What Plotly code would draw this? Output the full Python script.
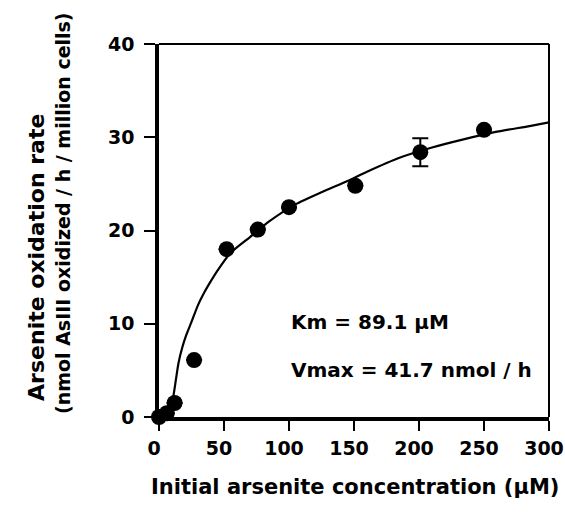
import plotly.graph_objects as go

# Measured data points
conc = [0, 6, 12, 27, 52, 76, 100, 151, 201, 250]
rate = [0, 0.4, 1.5, 6.1, 18.0, 20.1, 22.5, 24.8, 28.4, 30.8]
rate_err = [None, None, None, None, None, None, None, None, 1.5, None]

# Fitted curve
fit_x = [0, 8, 11, 13, 15, 18, 21, 25, 30, 35, 40, 45, 55, 70, 85, 105, 125,
         145, 160, 185, 210, 235, 260, 285, 300]
fit_y = [0, 0.5, 2.2, 4.0, 5.8, 7.5, 8.8, 10.2, 12.0, 13.4, 14.6, 15.7, 17.6,
         19.3, 21.0, 22.8, 24.1, 25.3, 26.3, 27.8, 28.9, 29.8, 30.6, 31.2, 31.6]

x_ticks = [0, 50, 100, 150, 200, 250, 300]
y_ticks = [0, 10, 20, 30, 40]

FONT = "DejaVu Sans"

fig = go.Figure()
fig.add_trace(go.Scatter(x=fit_x, y=fit_y, mode="lines",
                         line=dict(color="black", width=2.2, shape="spline", smoothing=0.6),
                         hoverinfo="skip", showlegend=False, cliponaxis=False))
fig.add_trace(go.Scatter(x=conc, y=rate, mode="markers",
                         marker=dict(color="black", size=16),
                         error_y=dict(type="data", array=rate_err, visible=True,
                                      color="black", thickness=2, width=8),
                         showlegend=False, cliponaxis=False))

fig.update_layout(
    width=565, height=523,
    margin=dict(l=159, r=16, t=44, b=106),
    plot_bgcolor="white", paper_bgcolor="white",
    font=dict(family=FONT, color="black", size=19, weight="bold"),
    xaxis=dict(range=[0, 300], tickvals=x_ticks, ticks="outside", ticklen=10,
               tickwidth=2, tickcolor="black", showline=True, linewidth=3.5,
               linecolor="black", showgrid=False, zeroline=False, automargin=False,
               tickfont=dict(family=FONT, size=19, weight="bold"),
               ticklabelstandoff=1, ticklabelshift=-5, ticklabeloverflow="allow"),
    yaxis=dict(range=[0, 40], tickvals=y_ticks, ticks="outside", ticklen=11,
               tickwidth=2, tickcolor="black", showline=True, linewidth=3.5,
               linecolor="black", showgrid=False, zeroline=False, automargin=False,
               tickfont=dict(family=FONT, size=19, weight="bold"),
               ticklabelstandoff=6),
    shapes=[
        dict(type="line", xref="paper", yref="paper", x0=0, x1=1, y0=1, y1=1,
             line=dict(color="black", width=2)),
        dict(type="line", xref="paper", yref="paper", x0=1, x1=1, y0=0, y1=1,
             line=dict(color="black", width=2)),
    ],
    annotations=[
        dict(text="Km = 89.1 µM", x=100, y=10.2, xref="x", yref="y",
             xanchor="left", yanchor="middle", showarrow=False,
             font=dict(family=FONT, size=20, weight="bold")),
        dict(text="Vmax = 41.7 nmol / h", x=100, y=5.0, xref="x", yref="y",
             xanchor="left", yanchor="middle", showarrow=False,
             font=dict(family=FONT, size=20, weight="bold")),
        dict(text="Initial arsenite concentration (µM)", x=0.503, y=-0.188,
             xref="paper", yref="paper", xanchor="center", yanchor="middle",
             showarrow=False, font=dict(family=FONT, size=21, weight="bold")),
        dict(text="Arsenite oxidation rate", x=-0.313, y=0.429,
             xref="paper", yref="paper", xanchor="center", yanchor="middle",
             textangle=-90, showarrow=False,
             font=dict(family=FONT, size=22, weight="bold")),
        dict(text="(nmol AsIII oxidized / h / million cells)", x=-0.246, y=0.547,
             xref="paper", yref="paper", xanchor="center", yanchor="middle",
             textangle=-90, showarrow=False,
             font=dict(family=FONT, size=19, weight="bold")),
    ],
)

fig.write_html("out.html", config={"displayModeBar": False},
               post_script="document.body.style.margin='0';"
                           "document.body.style.overflow='hidden';")
